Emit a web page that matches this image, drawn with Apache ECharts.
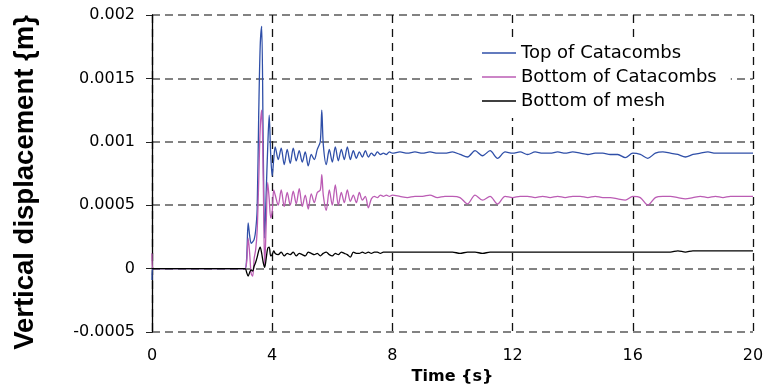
<!DOCTYPE html>
<html>
<head>
<meta charset="utf-8">
<script src="https://cdn.jsdelivr.net/npm/echarts@6/dist/echarts.min.js"></script>
<style>
html,body{margin:0;padding:0;background:#fff;}
#chart{width:770px;height:388px;}
</style>
</head>
<body>
<div id="chart"></div>
<script>
// Time values (s)
var time = [
  0, 0.02, 0.5, 1.0, 1.5, 2.0, 2.5, 3.0,
  3.1, 3.15, 3.2, 3.25, 3.3, 3.35, 3.4, 3.45, 3.5, 3.55, 3.6, 3.65, 3.7, 3.75, 3.8, 3.85, 3.9, 3.95, 4.0, 4.05, 4.1,
  4.2, 4.3, 4.4, 4.5, 4.6, 4.7, 4.8, 4.9, 5.0, 5.1, 5.2, 5.3, 5.4, 5.5, 5.6, 5.65, 5.7, 5.8, 5.9,
  6.0, 6.1, 6.2, 6.3, 6.4, 6.5, 6.6, 6.7, 6.8, 6.9, 7.0, 7.1, 7.2, 7.3, 7.4, 7.5, 7.6, 7.7, 7.8, 7.9, 8.0,
  8.25, 8.5, 8.75, 9.0, 9.25, 9.5, 9.75, 10.0, 10.25, 10.5, 10.75, 11.0, 11.25, 11.5, 11.75, 12.0,
  12.25, 12.5, 12.75, 13.0, 13.25, 13.5, 13.75, 14.0, 14.25, 14.5, 14.75, 15.0, 15.25, 15.5, 15.75, 16.0,
  16.25, 16.5, 16.75, 17.0, 17.25, 17.5, 17.75, 18.0, 18.25, 18.5, 18.75, 19.0, 19.25, 19.5, 19.75, 20.0
];
// Top of Catacombs (m)
var topCatacombs = [
  -0.00009, 0, 0, 0, 0, 0, 0, 0,
  0, 0.00008, 0.00036, 0.00026, 0.00020, 0.00021, 0.00023, 0.00030, 0.00047, 0.00120, 0.00175, 0.00191, 0.00099, 0.00024, 0.00060, 0.00095, 0.00121, 0.00090, 0.00073, 0.00086, 0.00096,
  0.00086, 0.00095, 0.00082, 0.00094, 0.00083, 0.00095, 0.00085, 0.00093, 0.00084, 0.00092, 0.00081, 0.00090, 0.00086, 0.00094, 0.00100, 0.00125, 0.00098, 0.00082, 0.00094,
  0.00084, 0.00096, 0.00085, 0.00094, 0.00086, 0.00096, 0.00086, 0.00093, 0.00087, 0.00092, 0.00088, 0.00093, 0.00088, 0.00091, 0.00089, 0.00092, 0.00090, 0.00091, 0.00090, 0.00092, 0.00091,
  0.00092, 0.00091, 0.00092, 0.00091, 0.00092, 0.00091, 0.00091, 0.00092, 0.00090, 0.00088, 0.00093, 0.00089, 0.00093, 0.00087, 0.00092, 0.00091,
  0.00092, 0.00090, 0.00092, 0.00091, 0.00091, 0.00092, 0.00091, 0.00092, 0.00091, 0.00090, 0.00091, 0.00091, 0.00090, 0.00090, 0.000875, 0.00091,
  0.00090, 0.00087, 0.00091, 0.00092, 0.00091, 0.00090, 0.00088, 0.00090, 0.00091, 0.00092, 0.00091, 0.00091, 0.00091, 0.00091, 0.00091, 0.00091
];
// Bottom of Catacombs (m)
var bottomCatacombs = [
  0.00012, 0, 0, 0, 0, 0, 0, 0,
  0, 0.00005, 0.00024, 0.00012, -0.00004, -0.00006, 0.00008, 0.00015, 0.00030, 0.00068, 0.00110, 0.00125, 0.00073, 0.00002, 0.00035, 0.00068, 0.00055, 0.00040, 0.00045, 0.00062, 0.00058,
  0.00050, 0.00062, 0.00049, 0.00060, 0.00050, 0.00061, 0.00051, 0.00063, 0.00049, 0.00058, 0.00047, 0.00059, 0.00052, 0.00060, 0.00062, 0.00074, 0.00058, 0.00046, 0.00062,
  0.00050, 0.00066, 0.00050, 0.00060, 0.00052, 0.00062, 0.00053, 0.00058, 0.00052, 0.00060, 0.00054, 0.00057, 0.00048, 0.00055, 0.00057, 0.00056, 0.00058, 0.00057, 0.00058, 0.00057, 0.00058,
  0.00057, 0.00056, 0.00057, 0.00057, 0.00058, 0.00056, 0.00057, 0.00057, 0.00056, 0.00051, 0.00058, 0.00054, 0.00057, 0.00051, 0.00057, 0.00056,
  0.00057, 0.00057, 0.00056, 0.00057, 0.00056, 0.00057, 0.00056, 0.00057, 0.00057, 0.00056, 0.00057, 0.00056, 0.00056, 0.00055, 0.00054, 0.00057,
  0.00056, 0.00050, 0.00056, 0.00057, 0.00057, 0.00056, 0.00055, 0.00056, 0.00057, 0.00056, 0.00057, 0.00056, 0.00057, 0.00057, 0.00057, 0.00057
];
// Bottom of mesh (m)
var bottomMesh = [
  0, 0, 0, 0, 0, 0, 0, 0,
  0, -0.00003, -0.00006, -0.00003, -0.00001, -0.00002, 0.00002, 0.00005, 0.00009, 0.00014, 0.00017, 0.00012, 0.00005, 0.00001, 0.00008, 0.00016, 0.00017, 0.00010, 0.00011, 0.00014, 0.00012,
  0.00011, 0.00013, 0.00010, 0.00012, 0.00011, 0.00013, 0.00010, 0.00012, 0.00011, 0.00010, 0.00013, 0.00012, 0.00011, 0.00012, 0.00010, 0.00011, 0.00012, 0.00013, 0.00011,
  0.00010, 0.00012, 0.00011, 0.00013, 0.00012, 0.00011, 0.00009, 0.00013, 0.00012, 0.00012, 0.00013, 0.00012, 0.00013, 0.00012, 0.00013, 0.00013, 0.00012, 0.00013, 0.00013, 0.00013, 0.00013,
  0.00013, 0.00013, 0.00013, 0.00013, 0.00013, 0.00013, 0.00013, 0.00013, 0.00012, 0.00013, 0.00013, 0.00012, 0.00013, 0.00013, 0.00013, 0.00013,
  0.00013, 0.00013, 0.00013, 0.00013, 0.00013, 0.00013, 0.00013, 0.00013, 0.00013, 0.00013, 0.00013, 0.00013, 0.00013, 0.00013, 0.00013, 0.00013,
  0.00013, 0.00013, 0.00013, 0.00013, 0.00013, 0.00014, 0.00013, 0.00014, 0.00014, 0.00014, 0.00014, 0.00014, 0.00014, 0.00014, 0.00014, 0.00014
];
var seriesNames = ['Top of Catacombs', 'Bottom of Catacombs', 'Bottom of mesh'];
var xTicks = [0, 4, 8, 12, 16, 20];
var yTicks = [-0.0005, 0, 0.0005, 0.001, 0.0015, 0.002];

function pairs(vals) {
  return time.map(function (t, i) { return [t, vals[i]]; });
}

var chart = echarts.init(document.getElementById('chart'), null, {renderer: 'canvas'});
var colors = ['#2f4fa8', '#bb5cb4', '#000000'];
var lineW = 1.3;
chart.setOption({
  animation: false,
  backgroundColor: '#ffffff',
  grid: {left: 152, right: 17, top: 15, bottom: 56, outerBoundsMode: 'none', containLabel: false},
  legend: {
    orient: 'vertical',
    left: 472, top: 38,
    backgroundColor: '#ffffff',
    padding: [6, 14, 8, 10],
    icon: 'rect',
    itemWidth: 34, itemHeight: 1.4, itemGap: 6,
    textStyle: {fontFamily: 'DejaVu Sans', fontSize: 18, lineHeight: 18, color: '#000'},
    data: seriesNames
  },
  xAxis: {
    type: 'value', min: xTicks[0], max: xTicks[xTicks.length - 1], interval: 4,
    name: 'Time {s}', nameLocation: 'middle', nameGap: 36,
    nameTextStyle: {fontFamily: 'DejaVu Sans', fontWeight: 'bold', fontSize: 16, color: '#000'},
    axisLine: {show: false},
    axisTick: {show: true, inside: true, length: 3, lineStyle: {color: '#333'}},
    axisLabel: {margin: 16, fontFamily: 'DejaVu Sans', fontSize: 16, color: '#000'},
    splitLine: {show: true, lineStyle: {type: [8, 6], color: '#111', width: 1.3}}
  },
  yAxis: {
    type: 'value', min: yTicks[0], max: yTicks[yTicks.length - 1], interval: 0.0005,
    name: 'Vertical displacement {m}', nameLocation: 'middle', nameGap: 113,
    nameTextStyle: {fontFamily: 'Liberation Sans', fontWeight: 'bold', fontSize: 27.5, color: '#000',
      padding: [0, 18, 0, 0]},
    axisLine: {show: true, onZero: false, lineStyle: {color: '#000', width: 1.3}},
    axisTick: {show: true, length: 6, lineStyle: {color: '#222'}},
    axisLabel: {margin: 17, fontFamily: 'DejaVu Sans', fontSize: 16, color: '#000',
      formatter: function (v) { return String(+v.toFixed(4)); }},
    splitLine: {show: true, lineStyle: {type: [8, 5], color: '#5a5a5a', width: 1.5}}
  },
  series: [
    {name: seriesNames[0], type: 'line', data: pairs(topCatacombs), symbol: 'none', smooth: 0.3,
     lineStyle: {color: colors[0], width: lineW}, itemStyle: {color: colors[0]}},
    {name: seriesNames[1], type: 'line', data: pairs(bottomCatacombs), symbol: 'none', smooth: 0.3,
     lineStyle: {color: colors[1], width: lineW}, itemStyle: {color: colors[1]}},
    {name: seriesNames[2], type: 'line', data: pairs(bottomMesh), symbol: 'none', smooth: 0.3,
     lineStyle: {color: colors[2], width: lineW}, itemStyle: {color: colors[2]}}
  ]
});
</script>
</body>
</html>
